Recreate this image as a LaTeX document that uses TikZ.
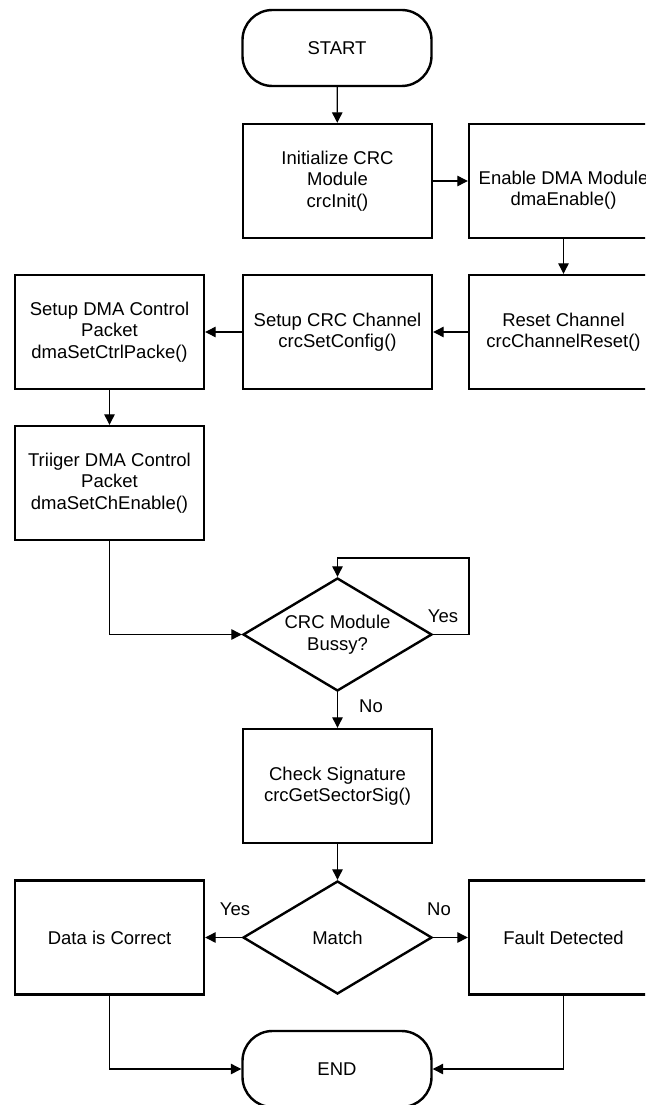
\documentclass[tikz,border=0pt]{standalone}
\usepackage{fontspec}
\setmainfont{Liberation Sans}
\usetikzlibrary{shapes.geometric,arrows.meta}
\begin{document}
\begin{tikzpicture}[x=1pt,y=-1pt,
  txt/.style={font=\fontsize{18.5}{21.5}\selectfont,align=center},
  box/.style={txt,draw,line width=2.4pt,minimum width=189pt,minimum height=114pt,inner sep=0pt},
  term/.style={txt,draw,line width=2.4pt,minimum width=189pt,minimum height=76pt,inner sep=0pt,rounded corners=30pt},
  dia/.style={txt,draw,diamond,aspect=1.67,line width=2.4pt,minimum width=189pt,minimum height=113pt,inner sep=0pt},
  arr/.style={line width=1.2pt,-{Triangle[length=10.5pt,width=10.5pt]}},
  lbl/.style={font=\fontsize{18.5}{21.5}\selectfont,inner sep=0pt}]
\useasboundingbox (0,0) rectangle (645,1105);
\clip (0,0) rectangle (645,1105);
\fill[white] (0,0) rectangle (645,1105);
% nodes
\node[term] (start) at (337,48) {START};
\node[box] (init) at (337.5,181) {Initialize CRC\\Module\\crcInit()};
\node[box,label={[txt,inner sep=0pt,yshift=-9pt]center:Enable DMA Module\\dmaEnable()}] (enable) at (563.5,181) {};
\node[box] (reset) at (563.5,332) {Reset Channel\\crcChannelReset()};
\node[box] (setcrc) at (337.5,332) {Setup CRC Channel\\crcSetConfig()};
\node[box] (setdma) at (109.5,332) {Setup DMA Control\\Packet\\dmaSetCtrlPacke()};
\node[box] (trig) at (109.5,483) {Triiger DMA Control\\Packet\\dmaSetChEnable()};
\node[dia] (busy) at (337.5,634.5) {CRC Module\\Bussy?};
\node[box] (check) at (337.5,786) {Check Signature\\crcGetSectorSig()};
\node[dia] (match) at (337.5,937.5) {Match};
\node[box] (data) at (109.5,937.5) {Data is Correct};
\node[box] (fault) at (563.5,937.5) {Fault Detected};
\node[term] (end) at (337,1069) {END};
\coordinate (loopc) at (469,558);
% connectors
\draw[arr] (start) -- (init);
\draw[arr] (init) -- (enable);
\draw[arr] (enable) -- (reset);
\draw[arr] (reset) -- (setcrc);
\draw[arr] (setcrc) -- (setdma);
\draw[arr] (setdma) -- (trig);
\draw[arr] (trig.south) |- (busy.west);
\draw[arr] (busy.east) -| (loopc) -| (busy.north);
\draw[arr] (busy.south) -- (check.north);
\draw[arr] (check) -- (match);
\draw[arr] (match.west) -- (data.east);
\draw[arr] (match.east) -- (fault.west);
\draw[arr] (data.south) |- (end.west);
\draw[arr] (fault.south) |- (end.east);
% labels
\node[lbl] (lyes1) at (443,616) {Yes};
\node[lbl] (lno1) at (371,706) {No};
\node[lbl] (lyes2) at (235,909) {Yes};
\node[lbl] (lno2) at (439,909) {No};
\end{tikzpicture}
\end{document}
